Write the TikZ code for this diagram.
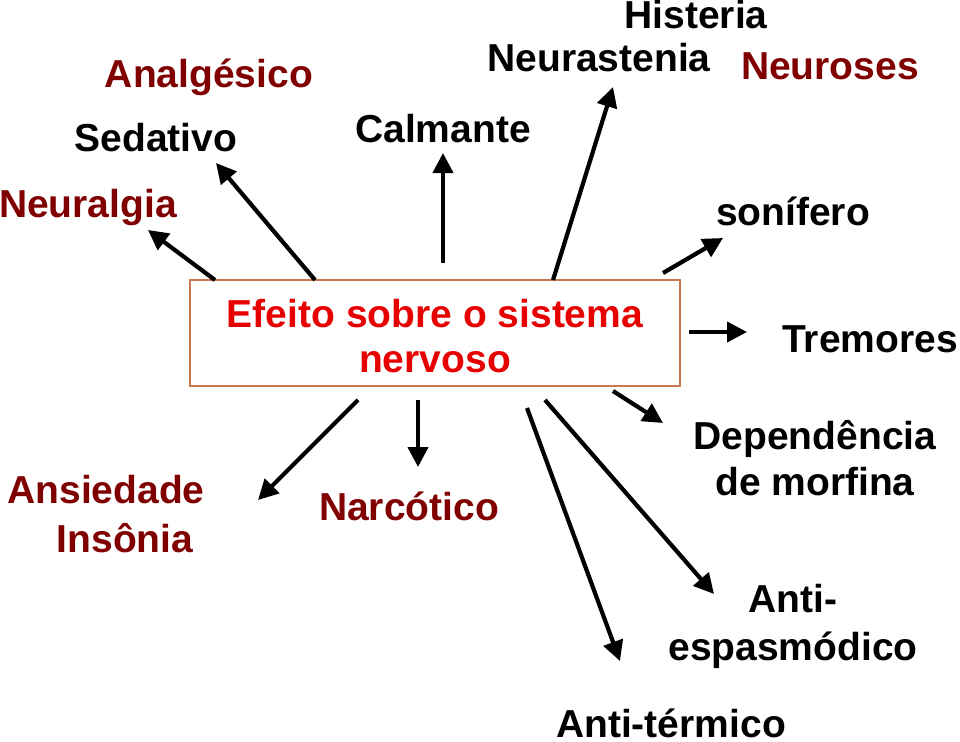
\documentclass[tikz,border=0pt]{standalone}
\usepackage{fontspec}
\setmainfont{Liberation Sans}
\usetikzlibrary{arrows.meta}
\definecolor{darkred}{RGB}{128,0,0}
\definecolor{boxred}{RGB}{230,0,0}
\definecolor{boxedge}{RGB}{200,120,80}
\begin{document}
\begin{tikzpicture}[x=1pt,y=-1pt,
  lbl/.style={anchor=base,inner sep=0pt,font=\fontsize{39}{45}\selectfont\bfseries},
  dk/.style={lbl,text=darkred},
  arr/.style={line width=4.2pt,-{Triangle[length=20pt,width=20pt]}}]
\useasboundingbox (0,0) rectangle (960,741);
% box
\node[draw=boxedge,line width=1.5pt,minimum width=490pt,minimum height=106pt,inner sep=0pt] (box) at (435,333) {};
\node[lbl,text=boxred,align=center] (title) at (435,372) {Efeito sobre o sistema\\nervoso};
% labels
\node[dk] (analg) at (209,88) {Analgésico};
\node[lbl] (sed) at (156,151) {Sedativo};
\node[dk] (neural) at (88,217) {Neuralgia};
\node[lbl] (calm) at (443,142) {Calmante};
\node[lbl] (hist) at (696,29) {Histeria};
\node[lbl] (neura) at (599,72) {Neurastenia};
\node[dk] (neuro) at (830,80) {Neuroses};
\node[lbl] (sonif) at (793,225) {sonífero};
\node[lbl] (trem) at (870,352) {Tremores};
\node[lbl,font=\fontsize{39}{46}\selectfont\bfseries,align=center] (dep) at (815,495) {Dependência\\de morfina};
\node[dk] (ans) at (106,503) {Ansiedade};
\node[dk] (ins) at (125,552) {Insônia};
\node[dk] (narc) at (409,520) {Narcótico};
\node[lbl,font=\fontsize{39}{48}\selectfont\bfseries,align=center] (anti) at (793,660) {Anti-\\espasmódico};
\node[lbl] (antit) at (671,737) {Anti-térmico};
% arrow endpoints
\coordinate (s1) at (215,280); \coordinate (t1) at (148,230);
\coordinate (s2) at (315,280); \coordinate (t2) at (216,163);
\coordinate (s3) at (443,263); \coordinate (t3) at (443,153);
\coordinate (s4) at (553,280); \coordinate (t4) at (613,87);
\coordinate (s5) at (663,273); \coordinate (t5) at (723,238);
\coordinate (s6) at (689,332); \coordinate (t6) at (747,332);
\coordinate (s7) at (613,391); \coordinate (t7) at (663,423);
\coordinate (s8) at (545,400); \coordinate (t8) at (714,594);
\coordinate (s9) at (527,408); \coordinate (t9) at (620,661);
\coordinate (s10) at (418,400); \coordinate (t10) at (418,467);
\coordinate (s11) at (358,400); \coordinate (t11) at (258,500);
\foreach \i in {1,...,11} {\draw[arr] (s\i) -- (t\i);}
\end{tikzpicture}
\end{document}
